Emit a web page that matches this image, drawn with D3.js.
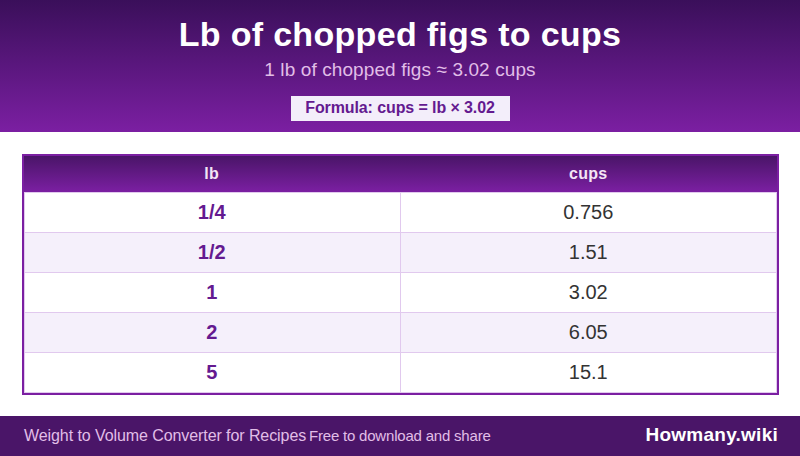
<!DOCTYPE html>
<html>
<head>
<meta charset="utf-8">
<title>Lb of chopped figs to cups</title>
<script src="https://cdn.jsdelivr.net/npm/d3@7"></script>
<style>
html, body { margin: 0; padding: 0; background: #fff; }
svg { display: block; font-family: "Liberation Sans", Arial, sans-serif; }
</style>
</head>
<body>
<script>
var columns = ['lb', 'cups'];
var lbLabels = ['1/4', '1/2', '1', '2', '5'];
var cupsLabels = ['0.756', '1.51', '3.02', '6.05', '15.1'];

var titleText = 'Lb of chopped figs to cups';
var subtitleText = '1 lb of chopped figs ≈ 3.02 cups';
var formulaText = 'Formula: cups = lb × 3.02';
var footerLeft = 'Weight to Volume Converter for Recipes';
var footerMiddle = 'Free to download and share';
var footerRight = 'Howmany.wiki';

var width = 800;
var height = 456;

var svg = d3.select('body')
	.append('svg')
	.attr('width', width)
	.attr('height', height);

var defs = svg.append('defs');

function addGradient(id, from, to) {
	var grad = defs.append('linearGradient')
		.attr('id', id)
		.attr('x1', 0).attr('y1', 0)
		.attr('x2', 0).attr('y2', 1);
	grad.append('stop').attr('offset', '0%').attr('stop-color', from);
	grad.append('stop').attr('offset', '100%').attr('stop-color', to);
}
addGradient('headerGrad', '#3a0f5a', '#7b1fa2');
addGradient('theadGrad', '#4a1568', '#7b1fa2');

// banner
svg.append('rect')
	.attr('width', width)
	.attr('height', 132)
	.attr('fill', 'url(#headerGrad)');

svg.append('text')
	.attr('x', width / 2)
	.attr('y', 46)
	.attr('text-anchor', 'middle')
	.attr('font-size', 34)
	.attr('font-weight', 'bold')
	.attr('letter-spacing', 0.31)
	.attr('fill', '#fff')
	.text(titleText);

svg.append('text')
	.attr('x', width / 2)
	.attr('y', 76)
	.attr('text-anchor', 'middle')
	.attr('font-size', 19)
	.attr('letter-spacing', 0.1)
	.attr('fill', '#e1bee7')
	.text(subtitleText);

svg.append('rect')
	.attr('x', 291)
	.attr('y', 96)
	.attr('width', 219)
	.attr('height', 25)
	.attr('fill', '#f3eefa');

svg.append('text')
	.attr('x', width / 2)
	.attr('y', 113)
	.attr('text-anchor', 'middle')
	.attr('font-size', 16)
	.attr('font-weight', 'bold')
	.attr('letter-spacing', -0.1)
	.attr('fill', '#641a90')
	.text(formulaText);

// table
var tableBox = { left: 24, right: 777, top: 156, head: 192, bottom: 392 };

var xScale = d3.scaleBand()
	.domain(columns)
	.range([tableBox.left, tableBox.right]);

var yScale = d3.scaleBand()
	.domain(lbLabels)
	.range([tableBox.head, tableBox.bottom]);

svg.append('rect')
	.attr('x', tableBox.left)
	.attr('y', tableBox.top)
	.attr('width', tableBox.right - tableBox.left)
	.attr('height', tableBox.head - tableBox.top)
	.attr('fill', 'url(#theadGrad)');

svg.selectAll('.head')
	.data(columns)
	.enter()
	.append('text')
	.attr('class', 'head')
	.attr('x', function(d) {
		return xScale(d) + xScale.bandwidth() / 2 - 0.5;
	})
	.attr('y', 179)
	.attr('text-anchor', 'middle')
	.attr('font-size', 16)
	.attr('font-weight', 'bold')
	.attr('letter-spacing', 0.3)
	.attr('fill', '#f3e5f5')
	.text(function(d) {
		return d;
	});

var rows = svg.selectAll('.row')
	.data(d3.zip(lbLabels, cupsLabels))
	.enter()
	.append('g')
	.attr('class', 'row');

rows.append('rect')
	.attr('x', tableBox.left)
	.attr('y', function(d) {
		return yScale(d[0]);
	})
	.attr('width', tableBox.right - tableBox.left)
	.attr('height', yScale.bandwidth())
	.attr('fill', function(d, i) {
		return i % 2 ? '#f5f0fb' : '#fff';
	});

rows.append('line')
	.attr('x1', tableBox.left)
	.attr('x2', tableBox.right)
	.attr('y1', function(d) {
		return yScale(d[0]) + 0.5;
	})
	.attr('y2', function(d) {
		return yScale(d[0]) + 0.5;
	})
	.attr('stroke', '#e1c9ee');

rows.append('text')
	.attr('x', xScale('lb') + xScale.bandwidth() / 2 - 0.5)
	.attr('y', function(d) {
		return yScale(d[0]) + yScale.bandwidth() / 2 + 7;
	})
	.attr('text-anchor', 'middle')
	.attr('font-size', 20)
	.attr('font-weight', 'bold')
	.attr('fill', '#641a90')
	.text(function(d) {
		return d[0];
	});

rows.append('text')
	.attr('x', xScale('cups') + xScale.bandwidth() / 2 - 0.5)
	.attr('y', function(d) {
		return yScale(d[0]) + yScale.bandwidth() / 2 + 7;
	})
	.attr('text-anchor', 'middle')
	.attr('font-size', 20)
	.attr('fill', '#333')
	.text(function(d) {
		return d[1];
	});

// cell borders: bottom, divider and both sides
svg.append('line')
	.attr('x1', tableBox.left)
	.attr('x2', tableBox.right)
	.attr('y1', tableBox.bottom + 0.5)
	.attr('y2', tableBox.bottom + 0.5)
	.attr('stroke', '#e1c9ee');

svg.selectAll('.divider')
	.data([24.5, 400.5, 776.5])
	.enter()
	.append('line')
	.attr('class', 'divider')
	.attr('x1', function(d) { return d; })
	.attr('x2', function(d) { return d; })
	.attr('y1', tableBox.head)
	.attr('y2', tableBox.bottom + 1)
	.attr('stroke', '#e1c9ee');

// outer border of the table
svg.append('rect')
	.attr('x', 23)
	.attr('y', 155)
	.attr('width', 755)
	.attr('height', 239)
	.attr('fill', 'none')
	.attr('stroke', '#7b1fa2')
	.attr('stroke-width', 2);

// footer
svg.append('rect')
	.attr('y', 416)
	.attr('width', width)
	.attr('height', 40)
	.attr('fill', '#4a1568');

svg.append('text')
	.attr('x', 24)
	.attr('y', 441)
	.attr('font-size', 16)
	.attr('letter-spacing', -0.08)
	.attr('fill', '#e1bee7')
	.text(footerLeft);

svg.append('text')
	.attr('x', 309)
	.attr('y', 441)
	.attr('font-size', 15)
	.attr('letter-spacing', -0.2)
	.attr('fill', '#e1bee7')
	.text(footerMiddle);

svg.append('text')
	.attr('x', 778)
	.attr('y', 441)
	.attr('text-anchor', 'end')
	.attr('font-size', 19)
	.attr('font-weight', 'bold')
	.attr('letter-spacing', 0.25)
	.attr('fill', '#fff')
	.text(footerRight);
</script>
</body>
</html>
